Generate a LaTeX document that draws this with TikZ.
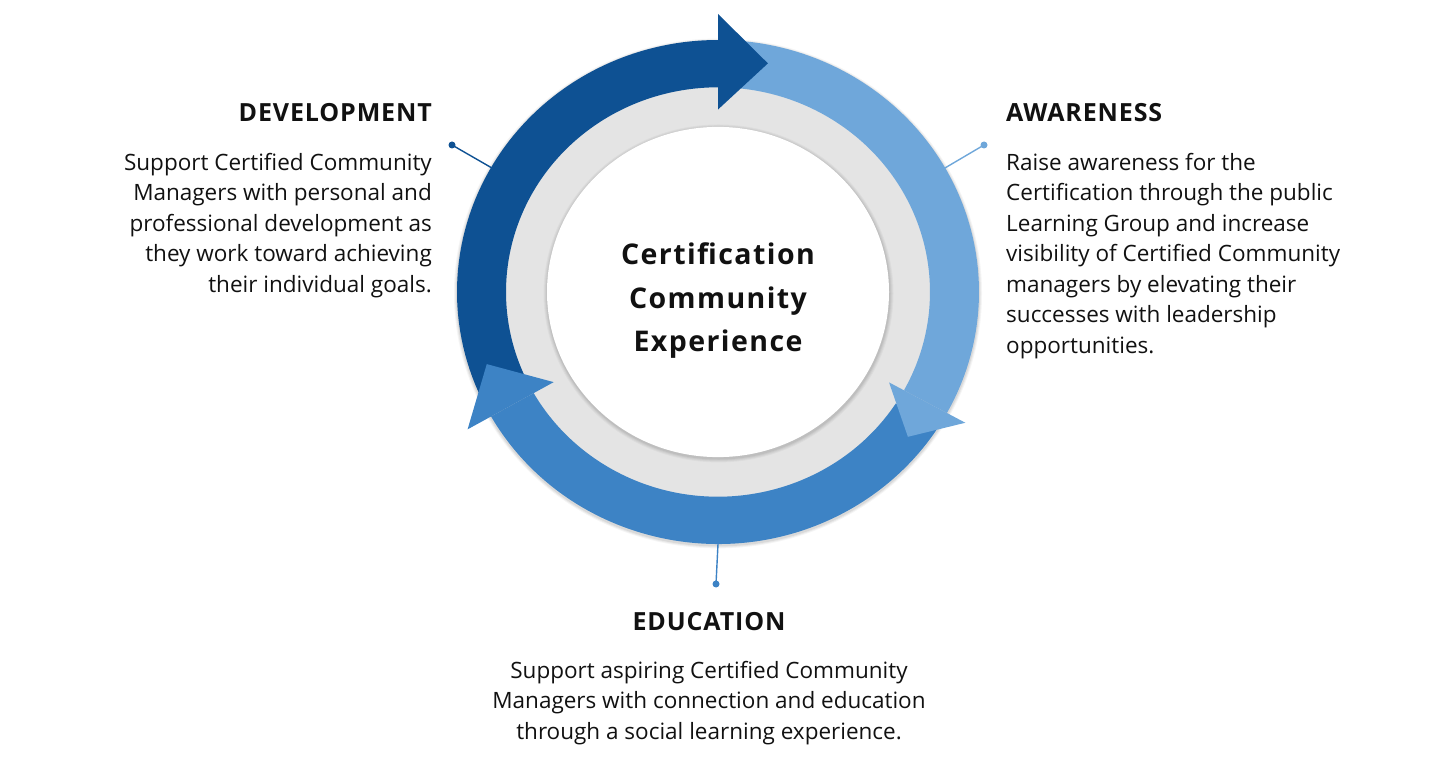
\documentclass[tikz,border=0pt]{standalone}
\usepackage{fontspec}
\setmainfont{Open Sans}
\definecolor{dkblue}{HTML}{0E5193}
\definecolor{ltblue}{HTML}{6FA7DA}
\definecolor{mdblue}{HTML}{3D83C5}
\definecolor{ringgray}{HTML}{E4E4E4}
\definecolor{txt}{HTML}{111111}
\newcommand{\bodyfnt}{\fontsize{22.5}{30.5}\selectfont}
\newcommand{\headfnt}{\fontsize{25}{28}\selectfont\bfseries\addfontfeatures{LetterSpace=3.5}}
\newcommand{\centfnt}{\fontsize{28.5}{43.5}\selectfont\bfseries\addfontfeatures{LetterSpace=5}}
\tikzset{
  bodytext/.style={inner sep=0pt, text=txt, font=\bodyfnt},
  headtext/.style={inner sep=0pt, text=txt, font=\headfnt},
  dotmark/.style={circle, inner sep=0pt, minimum size=7pt},
  leader/.style={line width=1.4pt}
}
\begin{document}
\begin{tikzpicture}[x=1pt,y=-1pt]
\useasboundingbox (0,0) rectangle (1456,775);
\begin{scope}[shift={(718,292)}, yscale=-0.9655]
  % soft shadow
  \foreach \k/\op in {3/0.04,2/0.05,1/0.07}{
    \fill[black, opacity=\op] (0,-1.5) circle (261+\k);
  }
  \fill[ringgray] (0,0) circle (216);
  \foreach \k/\op in {4/0.03,3/0.04,2/0.045,1/0.05}{
    \fill[black, opacity=\op] (0.5,-1.5) circle (171+\k);
  }
  \fill[white] (0,0) circle (171);
  % bands
  \fill[dkblue] (205:212) arc[start angle=205, end angle=90, radius=212]
     -- (90:261) arc[start angle=90, end angle=205, radius=261] -- cycle;
  \fill[ltblue] (85:212) arc[start angle=85, end angle=-28.7, radius=212]
     -- (-28.7:261) arc[start angle=-28.7, end angle=85, radius=261] -- cycle;
  \fill[mdblue] (-33:212) arc[start angle=-33, end angle=-150.4, radius=212]
     -- (-150.4:261) arc[start angle=-150.4, end angle=-33, radius=261] -- cycle;
  % arrowheads
  \fill[dkblue] (90:189) -- (78.1:242) -- (90:288) -- cycle;
  \fill[ltblue] (-28.7:195) -- (-38.3:242) -- (-28.7:282) -- cycle;
  \fill[mdblue] (209.6:189) -- (197.9:243) -- (209.6:288) -- cycle;
  % connector ends on the ring
  \coordinate (devend) at (150.4:260);
  \coordinate (awaend) at (29.5:260);
  \coordinate (eduend) at (-90:261);
\end{scope}

% centre title
\node[inner sep=0pt, text=txt, font=\centfnt, align=center, anchor=north] (title) at (718,242.5)
  {Certification\\Community\\Experience};

% development
\node[headtext, anchor=base east] (devh) at (432,122) {DEVELOPMENT};
\node[bodytext, anchor=north east, align=right] (devb) at (432,153)
  {Support Certified Community\\Managers with personal and\\professional development as\\they work toward achieving\\their individual goals.};
\node[dotmark, fill=dkblue] (devdot) at (452,145) {};
\draw[leader, dkblue] (devdot.center) -- (devend);

% awareness
\node[headtext, anchor=base west] (awah) at (1006,122) {AWARENESS};
\node[bodytext, anchor=north west, align=left] (awab) at (1006,153)
  {Raise awareness for the\\Certification through the public\\Learning Group and increase\\visibility of Certified Community\\managers by elevating their\\successes with leadership\\opportunities.};
\node[dotmark, fill=ltblue] (awadot) at (984,145) {};
\draw[leader, ltblue] (awadot.center) -- (awaend);

% education
\node[headtext, anchor=base] (eduh) at (709,630) {EDUCATION};
\node[bodytext, anchor=north, align=center] (edub) at (709,661)
  {Support aspiring Certified Community\\Managers with connection and education\\through a social learning experience.};
\node[dotmark, fill=mdblue] (edudot) at (716,584) {};
\draw[leader, mdblue] (edudot.center) -- (eduend);
\end{tikzpicture}
\end{document}
